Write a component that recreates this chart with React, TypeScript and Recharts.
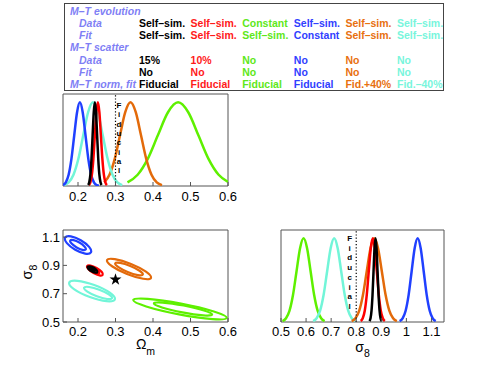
import React from 'react';
import {
  LineChart,
  ComposedChart,
  Line,
  Scatter,
  XAxis,
  YAxis,
  ReferenceLine,
  ReferenceArea,
  Symbols,
} from 'recharts';

const FONT = '"Liberation Sans", Arial, Helvetica, sans-serif';
const LABEL_COLOR = '#7f7ff5';
const FRAME = '#555';

// ---------------- table ----------------
const tableRowLabels = ['M–T evolution', 'Data', 'Fit', 'M–T scatter', 'Data', 'Fit', 'M–T norm, fit'];
const tableRowIndent = [false, true, true, false, true, true, false];
const evolutionData = ['Self–sim.', 'Self–sim.', 'Constant', 'Self–sim.', 'Self–sim.', 'Self–sim.'];
const evolutionFit = ['Self–sim.', 'Self–sim.', 'Self–sim.', 'Constant', 'Self–sim.', 'Self–sim.'];
const scatterData = ['15%', '10%', 'No', 'No', 'No', 'No'];
const scatterFit = ['No', 'No', 'No', 'No', 'No', 'No'];
const normFit = ['Fiducial', 'Fiducial', 'Fiducial', 'Fiducial', 'Fid.+40%', 'Fid.–40%'];
const tableValues: (string[] | null)[] = [null, evolutionData, evolutionFit, null, scatterData, scatterFit, normFit];

// model colours: black, red, green, blue, orange, cyan
const modelColors = ['#000000', '#ff1a1a', '#5ee81a', '#3040ff', '#e8700f', '#78f5dc'];
const lineColors = ['#000000', '#ff0000', '#5ef000', '#2040ff', '#e36a0a', '#72f5d8'];

// ---------------- Ωm 1D posteriors ----------------
const omTicks = [0.2, 0.3, 0.4, 0.5, 0.6];
const omDomain = [0.16, 0.6];
const omBlack = [[0.227, 0.011], [0.23, 0.044], [0.233, 0.135], [0.236, 0.325], [0.239, 0.607], [0.242, 0.882], [0.245, 1], [0.248, 0.882], [0.251, 0.607], [0.254, 0.325], [0.257, 0.135], [0.26, 0.044], [0.263, 0.011]];
const omRed = [[0.229, 0.011], [0.233, 0.044], [0.237, 0.135], [0.241, 0.325], [0.245, 0.607], [0.249, 0.882], [0.253, 1], [0.257, 0.882], [0.261, 0.607], [0.265, 0.325], [0.269, 0.135], [0.273, 0.044], [0.277, 0.011]];
const omGreen = [[0.332, 0.044], [0.359, 0.135], [0.386, 0.325], [0.413, 0.607], [0.44, 0.882], [0.467, 1], [0.494, 0.882], [0.521, 0.607], [0.548, 0.325], [0.575, 0.135], [0.6, 0.05]];
const omBlue = [[0.16, 0.011], [0.1675, 0.044], [0.175, 0.135], [0.1825, 0.325], [0.19, 0.607], [0.1975, 0.882], [0.205, 1], [0.2125, 0.882], [0.22, 0.607], [0.2275, 0.325], [0.235, 0.135], [0.2425, 0.044], [0.25, 0.011], [0.256, 0.003]];
const omOrange = [[0.27, 0.044], [0.284, 0.135], [0.298, 0.325], [0.312, 0.607], [0.326, 0.882], [0.34, 1], [0.354, 0.882], [0.368, 0.607], [0.382, 0.325], [0.396, 0.135], [0.41, 0.044], [0.424, 0.011]];
const omCyan = [[0.162, 0.011], [0.175, 0.044], [0.188, 0.135], [0.201, 0.325], [0.214, 0.607], [0.227, 0.882], [0.24, 1], [0.253, 0.882], [0.266, 0.607], [0.279, 0.325], [0.292, 0.135], [0.305, 0.044], [0.318, 0.011]];

// ---------------- σ8 1D posteriors ----------------
const s8Ticks = [0.5, 0.6, 0.7, 0.8, 0.9, 1, 1.1];
const s8Domain = [0.5, 1.15];
const s8Black = [[0.853, 0.011], [0.857, 0.044], [0.861, 0.135], [0.865, 0.325], [0.869, 0.607], [0.873, 0.882], [0.877, 1], [0.881, 0.882], [0.885, 0.607], [0.889, 0.325], [0.893, 0.135], [0.897, 0.044], [0.901, 0.011]];
const s8Red = [[0.818, 0.011], [0.826, 0.044], [0.834, 0.135], [0.842, 0.325], [0.85, 0.607], [0.858, 0.882], [0.866, 1], [0.874, 0.882], [0.882, 0.607], [0.89, 0.325], [0.898, 0.135], [0.906, 0.044], [0.914, 0.011]];
const s8Green = [[0.506, 0.011], [0.52, 0.044], [0.534, 0.135], [0.548, 0.325], [0.562, 0.607], [0.576, 0.882], [0.59, 1], [0.604, 0.882], [0.618, 0.607], [0.632, 0.325], [0.646, 0.135], [0.66, 0.044], [0.674, 0.011]];
const s8Blue = [[0.973, 0.011], [0.985, 0.044], [0.997, 0.135], [1.009, 0.325], [1.021, 0.607], [1.033, 0.882], [1.045, 1], [1.057, 0.882], [1.069, 0.607], [1.081, 0.325], [1.093, 0.135], [1.105, 0.044], [1.117, 0.011]];
const s8Orange = [[0.782, 0.011], [0.797, 0.044], [0.812, 0.135], [0.827, 0.325], [0.842, 0.607], [0.857, 0.882], [0.872, 1], [0.887, 0.882], [0.902, 0.607], [0.917, 0.325], [0.932, 0.135], [0.947, 0.044], [0.962, 0.011]];
const s8Cyan = [[0.628, 0.011], [0.642, 0.044], [0.656, 0.135], [0.67, 0.325], [0.684, 0.607], [0.698, 0.882], [0.712, 1], [0.726, 0.882], [0.74, 0.607], [0.754, 0.325], [0.768, 0.135], [0.782, 0.044], [0.796, 0.011]];

// ---------------- 2D contours (Ωm, σ8) ----------------
const blueOuter = [[0.238, 0.986], [0.221, 0.977], [0.192, 1.007], [0.167, 1.059], [0.162, 1.102], [0.179, 1.111], [0.208, 1.081], [0.233, 1.029]];
const blueInner = [[0.223, 1.009], [0.213, 1.006], [0.196, 1.025], [0.181, 1.055], [0.177, 1.079], [0.187, 1.082], [0.204, 1.063], [0.219, 1.033]];
const redOuter = [[0.268, 0.83], [0.259, 0.825], [0.241, 0.844], [0.226, 0.874], [0.222, 0.898], [0.232, 0.903], [0.25, 0.884], [0.265, 0.854]];
const redInner = [[0.258, 0.845], [0.253, 0.843], [0.243, 0.853], [0.235, 0.87], [0.232, 0.883], [0.238, 0.885], [0.248, 0.875], [0.256, 0.858]];
const blackOuter = [[0.253, 0.85], [0.246, 0.846], [0.236, 0.856], [0.227, 0.875], [0.224, 0.892], [0.231, 0.896], [0.242, 0.886], [0.25, 0.867]];
const blackInner = [[0.246, 0.861], [0.243, 0.859], [0.237, 0.865], [0.232, 0.876], [0.23, 0.884], [0.234, 0.886], [0.24, 0.88], [0.245, 0.87]];
const orangeOuter = [[0.401, 0.805], [0.378, 0.798], [0.33, 0.835], [0.286, 0.896], [0.271, 0.944], [0.294, 0.952], [0.342, 0.914], [0.386, 0.854]];
const orangeInner = [[0.377, 0.831], [0.362, 0.827], [0.332, 0.851], [0.305, 0.889], [0.295, 0.918], [0.31, 0.922], [0.34, 0.898], [0.367, 0.861]];
const cyanOuter = [[0.305, 0.653], [0.28, 0.639], [0.231, 0.672], [0.185, 0.732], [0.17, 0.785], [0.194, 0.799], [0.244, 0.766], [0.29, 0.706]];
const cyanInner = [[0.295, 0.665], [0.28, 0.658], [0.25, 0.679], [0.222, 0.716], [0.212, 0.746], [0.227, 0.752], [0.257, 0.731], [0.285, 0.695]];
const greenOuter = [[0.61, 0.522], [0.568, 0.513], [0.469, 0.55], [0.372, 0.612], [0.334, 0.662], [0.376, 0.671], [0.475, 0.634], [0.572, 0.572]];
const greenInner = [[0.566, 0.548], [0.54, 0.542], [0.478, 0.565], [0.418, 0.604], [0.394, 0.636], [0.42, 0.642], [0.482, 0.619], [0.542, 0.58]];
const fiducialPoint = [[0.3, 0.8]];

const toPts = (a: number[][]) => a.map(([x, y]) => ({ x, y }));

const omSeries = [
  { d: omGreen, c: lineColors[2] },
  { d: omOrange, c: lineColors[4] },
  { d: omCyan, c: lineColors[5] },
  { d: omBlue, c: lineColors[3] },
  { d: omRed, c: lineColors[1] },
  { d: omBlack, c: lineColors[0] },
];
const s8Series = [
  { d: s8Green, c: lineColors[2] },
  { d: s8Cyan, c: lineColors[5] },
  { d: s8Orange, c: lineColors[4] },
  { d: s8Red, c: lineColors[1] },
  { d: s8Black, c: lineColors[0] },
  { d: s8Blue, c: lineColors[3] },
];
const contourSeries = [
  { d: cyanOuter, c: lineColors[5] },
  { d: cyanInner, c: lineColors[5] },
  { d: blueOuter, c: lineColors[3] },
  { d: blueInner, c: lineColors[3] },
  { d: greenOuter, c: lineColors[2] },
  { d: greenInner, c: lineColors[2] },
  { d: orangeOuter, c: lineColors[4] },
  { d: orangeInner, c: lineColors[4] },
  { d: redOuter, c: lineColors[1] },
  { d: redInner, c: lineColors[1] },
  { d: blackOuter, c: lineColors[0] },
  { d: blackInner, c: lineColors[0] },
];

const fidLetters = 'Fiducial'.split('');
function makeFidLabel(dx: number, firstBaseline: number, step: number) {
  return (props: any) => {
    const vb = props && props.viewBox;
    if (!vb) return null;
    const x = vb.x + dx;
    return (
      <text x={x} y={vb.y + firstBaseline} textAnchor="middle" fontSize={8} fontWeight="bold" fontFamily={FONT} fill="#000">
        {fidLetters.map((c, i) => (
          <tspan key={i} x={x} dy={i === 0 ? 0 : step}>
            {c}
          </tspan>
        ))}
      </text>
    );
  };
}

const tickStyle = { fill: '#000', fontSize: 13, fontFamily: FONT };

export default function App() {
  return (
    <div
      style={{
        position: 'absolute',
        left: 0,
        top: 0,
        width: 491,
        height: 366,
        background: '#fff',
        fontFamily: FONT,
        overflow: 'hidden',
      }}
    >
      {/* table */}
      <div
        style={{
          position: 'absolute',
          left: 64,
          top: 3,
          width: 380,
          height: 88,
          border: '1px solid #444',
          boxSizing: 'border-box',
        }}
      />
      {tableRowLabels.map((lab, i) => (
        <div
          key={'lab' + i}
          style={{
            position: 'absolute',
            left: tableRowIndent[i] ? 79 : 70,
            top: 4.55 + i * 12.3,
            lineHeight: '12.3px',
            fontSize: 10.5,
            fontWeight: 'bold',
            fontStyle: 'italic',
            color: LABEL_COLOR,
            whiteSpace: 'nowrap',
          }}
        >
          {lab}
        </div>
      ))}
      {tableValues.map((vals, i) =>
        vals
          ? vals.map((v, j) => (
              <div
                key={'v' + i + '-' + j}
                style={{
                  position: 'absolute',
                  left: 139 + j * 51.6,
                  top: 4.55 + i * 12.3,
                  lineHeight: '12.3px',
                  fontSize: 10.5,
                  fontWeight: 'bold',
                  color: modelColors[j],
                  whiteSpace: 'nowrap',
                }}
              >
                {v}
              </div>
            ))
          : null
      )}

      {/* top: Ωm 1D */}
      <div style={{ position: 'absolute', left: 0, top: 84 }}>
        <LineChart width={240} height={125} margin={{ top: 10, right: 12, bottom: 3, left: 63 }}>
          <XAxis
            type="number"
            dataKey="x"
            domain={omDomain}
            ticks={omTicks}
            allowDataOverflow
            height={20}
            axisLine={false}
            tickSize={-4}
            tickMargin={10}
            tickLine={{ stroke: FRAME }}
            tick={tickStyle}
          />
          <XAxis
            xAxisId="top"
            orientation="top"
            type="number"
            dataKey="x"
            domain={omDomain}
            ticks={omTicks}
            allowDataOverflow
            height={0}
            axisLine={false}
            tickSize={-4}
            tickLine={{ stroke: FRAME }}
            tick={false}
          />
          <YAxis hide type="number" domain={[0, 1.1]} allowDataOverflow />
          <ReferenceArea x1={omDomain[0]} x2={omDomain[1]} y1={0} y2={1.1} fill="none" fillOpacity={0} stroke={FRAME} strokeWidth={1} />
          {omSeries.map((s, i) => (
            <Line
              key={'om' + i}
              data={toPts(s.d)}
              dataKey="y"
              type="monotone"
              stroke={s.c}
              strokeWidth={2.5}
              dot={false}
              activeDot={false}
              isAnimationActive={false}
            />
          ))}
          <ReferenceLine
            x={0.3}
            stroke="#000"
            strokeWidth={1.2}
            strokeDasharray="1.2 2"
            label={makeFidLabel(3.5, 14, 9.3)}
          />
        </LineChart>
      </div>

      {/* bottom-left: contours */}
      <div style={{ position: 'absolute', left: 0, top: 220 }}>
        <ComposedChart width={240} height={146} margin={{ top: 10, right: 12, bottom: 24, left: 33 }}>
          <XAxis
            type="number"
            dataKey="x"
            domain={omDomain}
            ticks={omTicks}
            allowDataOverflow
            height={20}
            axisLine={false}
            tickSize={-4}
            tickMargin={9}
            tickLine={{ stroke: FRAME }}
            tick={tickStyle}
          />
          <XAxis
            xAxisId="top"
            orientation="top"
            type="number"
            dataKey="x"
            domain={omDomain}
            ticks={omTicks}
            allowDataOverflow
            height={0}
            axisLine={false}
            tickSize={-4}
            tickLine={{ stroke: FRAME }}
            tick={false}
          />
          <YAxis
            type="number"
            dataKey="y"
            domain={s8Domain}
            ticks={s8Ticks}
            allowDataOverflow
            width={30}
            axisLine={false}
            tickSize={-4}
            tickMargin={7}
            tickLine={{ stroke: FRAME }}
            tick={tickStyle}
          />
          <ReferenceArea x1={omDomain[0]} x2={omDomain[1]} y1={s8Domain[0]} y2={s8Domain[1]} fill="none" fillOpacity={0} stroke={FRAME} strokeWidth={1} />
          {contourSeries.map((s, i) => (
            <Line
              key={'ct' + i}
              data={toPts(s.d)}
              dataKey="y"
              type="basisClosed"
              stroke={s.c}
              strokeWidth={2.2}
              dot={false}
              activeDot={false}
              isAnimationActive={false}
            />
          ))}
          <Scatter
            data={toPts(fiducialPoint)}
            dataKey="y"
            isAnimationActive={false}
            shape={(p: any) => <Symbols cx={p.cx} cy={p.cy} type="star" size={45} fill="#000" />}
          />
        </ComposedChart>
      </div>

      {/* bottom-right: σ8 1D */}
      <div style={{ position: 'absolute', left: 270, top: 220 }}>
        <LineChart width={190} height={146} margin={{ top: 10, right: 16, bottom: 24, left: 11 }}>
          <XAxis
            type="number"
            dataKey="x"
            domain={s8Domain}
            ticks={s8Ticks}
            allowDataOverflow
            height={20}
            axisLine={false}
            tickSize={-4}
            tickMargin={9}
            tickLine={{ stroke: FRAME }}
            tick={tickStyle}
          />
          <XAxis
            xAxisId="top"
            orientation="top"
            type="number"
            dataKey="x"
            domain={s8Domain}
            ticks={s8Ticks}
            allowDataOverflow
            height={0}
            axisLine={false}
            tickSize={-4}
            tickLine={{ stroke: FRAME }}
            tick={false}
          />
          <YAxis hide type="number" domain={[0, 1.1]} allowDataOverflow />
          <ReferenceArea x1={s8Domain[0]} x2={s8Domain[1]} y1={0} y2={1.1} fill="none" fillOpacity={0} stroke={FRAME} strokeWidth={1} />
          {s8Series.map((s, i) => (
            <Line
              key={'s8' + i}
              data={toPts(s.d)}
              dataKey="y"
              type="monotone"
              stroke={s.c}
              strokeWidth={2.5}
              dot={false}
              activeDot={false}
              isAnimationActive={false}
            />
          ))}
          <ReferenceLine
            x={0.8}
            stroke="#000"
            strokeWidth={1.2}
            strokeDasharray="1.2 2"
            label={makeFidLabel(-6.5, 11, 9.7)}
          />
        </LineChart>
      </div>

      {/* axis titles */}
      <svg width={491} height={366} style={{ position: 'absolute', left: 0, top: 0, pointerEvents: 'none' }}>
        <text x={145.5} y={348.5} textAnchor="middle" fontFamily={FONT} fill="#000">
          <tspan fontSize={14}>Ω</tspan>
          <tspan fontSize={10.5} dy={6.5}>m</tspan>
        </text>
        <text x={362.5} y={352} textAnchor="middle" fontFamily={FONT} fill="#000">
          <tspan fontSize={14}>σ</tspan>
          <tspan fontSize={10.5} dy={5}>8</tspan>
        </text>
        <text transform="translate(32,272) rotate(-90)" textAnchor="middle" fontFamily={FONT} fill="#000">
          <tspan fontSize={14.5}>σ</tspan>
          <tspan fontSize={10.5} dy={5}>8</tspan>
        </text>
      </svg>
    </div>
  );
}
